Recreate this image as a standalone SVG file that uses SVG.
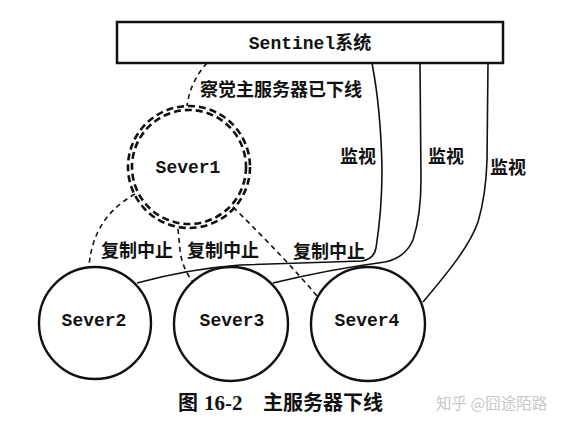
<svg xmlns="http://www.w3.org/2000/svg" width="564" height="433" viewBox="0 0 564 433">
<style>
.cjk{font-family:"Noto Sans CJK SC","Liberation Sans",sans-serif;font-weight:bold;font-size:18px;fill:#111}
.mono{font-family:"Liberation Mono","DejaVu Sans Mono",monospace;font-weight:bold;font-size:18px;fill:#111}
.node{fill:#fff;stroke:#111;stroke-width:2.4}
.dash{fill:none;stroke:#111;stroke-width:1.6;stroke-dasharray:5 4}
.ddash{fill:none;stroke:#111;stroke-width:2.6;stroke-dasharray:7 4}
.line{fill:none;stroke:#111;stroke-width:1.6}
</style>
<rect width="564" height="433" fill="#fff"/>
<g id="connectors">
<path class="dash" d="M207,63 Q190,82 187,106"/>
<path class="dash" d="M135,194 C110,208 92,230 89,266"/>
<path class="dash" d="M178,229 L180,250 Q182,268 193,282"/>
<path class="dash" d="M233,207 Q285,258 317,296"/>
<path class="line" d="M137,283 C170,274 200,268 240,265 L362,261 Q374,259 376,248 Q382,210 382,170 Q381,110 372,63"/>
<path class="line" d="M273,283 C310,274 340,268 385,262 Q405,258 413,240 Q421,215 421,180 L420,63"/>
<path class="line" d="M423,302 C450,270 470,245 478,222 Q486,195 487,160 L488,63"/>
<text class="cjk" x="200" y="96">察觉主服务器已下线</text>
<text class="cjk" x="358" y="163" text-anchor="middle">监视</text>
<text class="cjk" x="446" y="163" text-anchor="middle">监视</text>
<text class="cjk" x="508" y="174" text-anchor="middle">监视</text>
<text class="cjk" x="137" y="257" text-anchor="middle">复制中止</text>
<text class="cjk" x="223" y="257" text-anchor="middle">复制中止</text>
<text class="cjk" x="329" y="258" text-anchor="middle">复制中止</text>
</g>
<g id="sentinel">
<rect x="117" y="22" width="386" height="41" fill="#fff" stroke="#111" stroke-width="2.5"/>
<text x="310" y="49" text-anchor="middle"><tspan class="mono">Sentinel</tspan><tspan class="cjk">系统</tspan></text>
</g>
<g id="sever1">
<circle cx="189" cy="167" r="61" class="ddash"/>
<circle cx="189" cy="167" r="57" class="ddash"/>
<text class="mono" x="188" y="173" text-anchor="middle">Sever1</text>
</g>
<g id="sever2">
<circle cx="95" cy="323" r="56" class="node"/>
<text class="mono" x="94" y="326" text-anchor="middle">Sever2</text>
</g>
<g id="sever3">
<circle cx="231" cy="324" r="57" class="node"/>
<text class="mono" x="232" y="326" text-anchor="middle">Sever3</text>
</g>
<g id="sever4">
<circle cx="368" cy="324" r="57" class="node"/>
<text class="mono" x="367" y="326" text-anchor="middle">Sever4</text>
</g>
<g id="caption">
<text x="178" y="410" font-family="Noto Sans CJK SC,sans-serif" font-weight="bold" font-size="20" fill="#111">图</text>
<text x="204" y="410" font-family="Liberation Serif,serif" font-weight="bold" font-size="21" fill="#111">16-2</text>
<text x="263" y="410" font-family="Noto Sans CJK SC,sans-serif" font-weight="bold" font-size="20" fill="#111">主服务器下线</text>
<text x="436" y="409" font-family="Noto Sans CJK SC,sans-serif" font-size="15.5" fill="#c8c8c8">知乎 @囧途陌路</text>
</g>
</svg>
